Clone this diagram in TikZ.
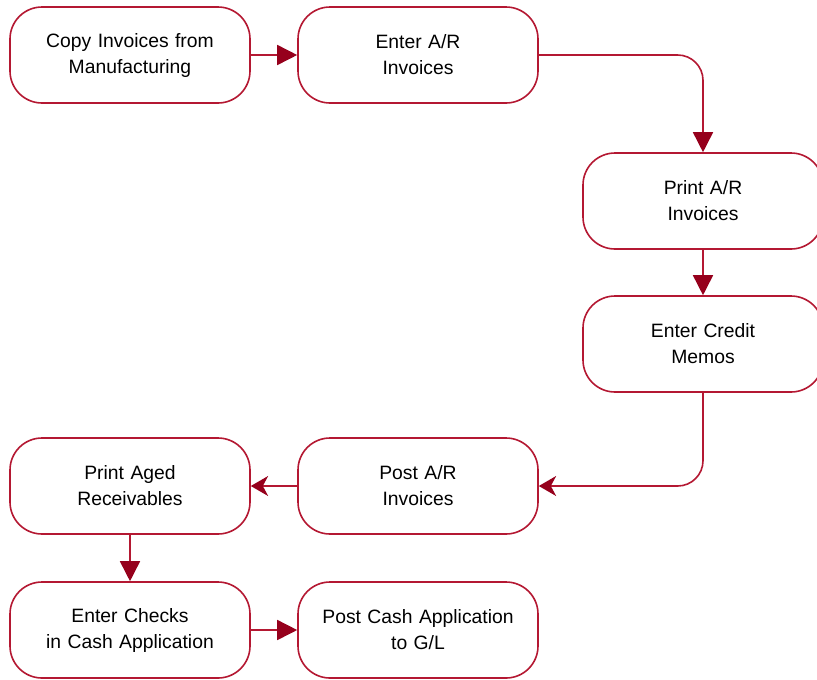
\documentclass[tikz,border=0pt]{standalone}
\usepackage{fontspec}
\setmainfont{Liberation Sans}
\usetikzlibrary{arrows.meta}
\definecolor{linered}{RGB}{180,24,50}
\definecolor{tipred}{RGB}{150,0,28}
\tikzset{
  stepbox/.style={draw=linered, line width=1.2pt, rounded corners=24pt, fill=white,
    minimum width=180pt, minimum height=72pt, text width=170pt, align=center,
    inner sep=0pt, font=\fontsize{14.5}{19.5}\selectfont},
  flow/.style={draw=linered, line width=1.2pt, rounded corners=19pt,
    -{Triangle[length=15pt,width=15pt,color=tipred]}},
  flowb/.style={draw=linered, line width=1.2pt, rounded corners=19pt,
    -{Stealth[length=13pt,width=15pt,inset=4pt,color=tipred]}},
}
\begin{document}
\begin{tikzpicture}[x=0.75pt,y=-0.75pt]
\useasboundingbox (0,0) rectangle (817,679);
\node[stepbox] (b1) at (130,55) {Copy Invoices from\\Manufacturing};
\node[stepbox] (b2) at (418,55) {Enter A/R\\Invoices};
\node[stepbox] (b3) at (703,201) {Print A/R\\Invoices};
\node[stepbox] (b4) at (703,344) {Enter Credit\\Memos};
\node[stepbox] (b5) at (418,486) {Post A/R\\Invoices};
\node[stepbox] (b6) at (130,486) {Print Aged\\Receivables};
\node[stepbox] (b7) at (130,630) {Enter Checks\\in Cash Application};
\node[stepbox] (b8) at (418,630) {Post Cash Application\\to G/L};
\draw[flow] (b1) -- (b2);
\draw[flow] (b2.east) -| (b3.north);
\draw[flow] (b3) -- (b4);
\draw[flowb] (b4.south) |- (b5.east);
\draw[flowb] (b5) -- (b6);
\draw[flow] (b6) -- (b7);
\draw[flow] (b7) -- (b8);
\end{tikzpicture}
\end{document}
